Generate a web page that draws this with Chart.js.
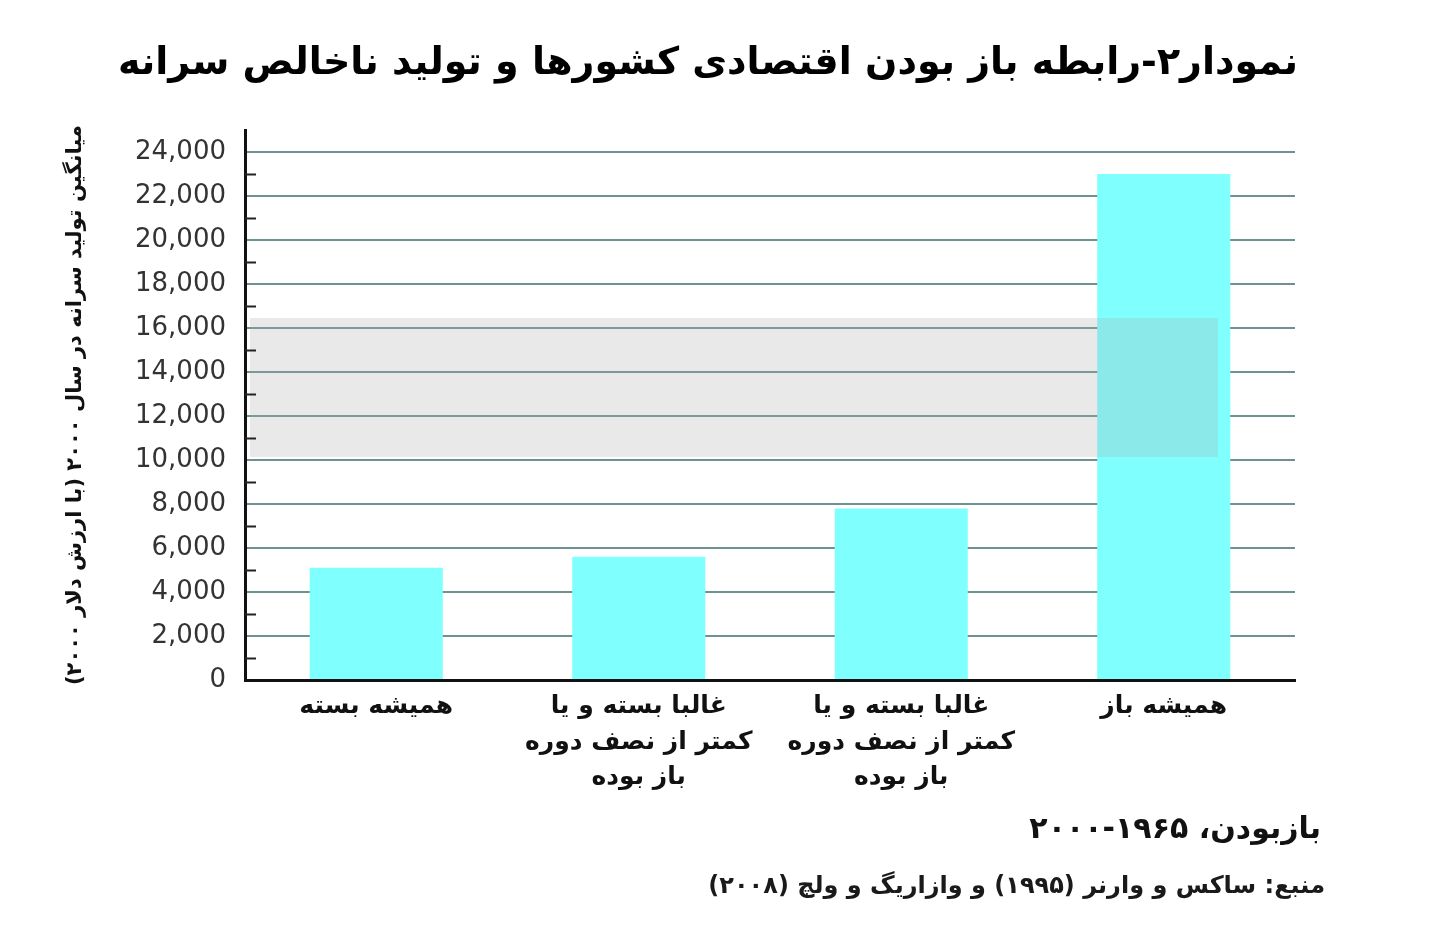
<!DOCTYPE html>
<html>
<head>
<meta charset="utf-8">
<script src="https://cdn.jsdelivr.net/npm/chart.js@4/dist/chart.umd.min.js"></script>
<style>
  html, body { margin: 0; padding: 0; background: #fff; }
  #wrap { width: 1429px; height: 938px; }
  canvas { direction: rtl; }
</style>
</head>
<body>
<div id="wrap"><canvas id="myChart" width="1429" height="938"></canvas></div>
<script>
// data
const categories = [
    ['همیشه بسته'],
    ['غالبا بسته و یا', 'کمتر از نصف دوره', 'باز بوده'],
    ['غالبا بسته و یا', 'کمتر از نصف دوره', 'باز بوده'],
    ['همیشه باز']
];
const gdpValues = [5100, 5600, 7800, 23000];
const yMin = 0;
const yMax = 25000;
const yStep = 1000;      // minor ticks every 1000, labels every 2000

const titleText = 'نمودار۲-رابطه باز بودن اقتصادی کشورها و تولید ناخالص سرانه';
const yTitleText = 'میانگین تولید سرانه در سال ۲۰۰۰ (با ارزش دلار ۲۰۰۰)';
const noteText = 'بازبودن، ۱۹۶۵-۲۰۰۰';
const sourceText = 'منبع: ساکس و وارنر (۱۹۹۵) و وازاریگ و ولچ (۲۰۰۸)';

const persianFont = '"DejaVu Sans", sans-serif';

// short dark ticks on the odd thousands, just right of the y axis
const minorTicks = {
    id: 'minorTicks',
    afterDraw(chart) {
        const ctx = chart.ctx;
        const y = chart.scales.y;
        const left = chart.chartArea.left;
        ctx.save();
        ctx.strokeStyle = '#222';
        ctx.lineWidth = 2;
        for (let v = yMin + yStep; v < yMax; v += yStep) {
            if (v % 2000 === 0) continue;
            const py = Math.round(y.getPixelForValue(v)) + 0.5;
            ctx.beginPath();
            ctx.moveTo(left, py);
            ctx.lineTo(left + 11, py);
            ctx.stroke();
        }
        ctx.restore();
    }
};

// grey watermark band across the middle of the plot
const band = {
    id: 'band',
    afterDatasetsDraw(chart) {
        const ctx = chart.ctx;
        ctx.save();
        ctx.fillStyle = 'rgba(170,170,170,0.26)';
        ctx.fillRect(250, 318, 968, 139);
        ctx.restore();
    }
};

// title on top, note + source lines under the chart
const texts = {
    id: 'texts',
    afterDraw(chart) {
        const ctx = chart.ctx;
        ctx.save();
        ctx.direction = 'rtl';
        ctx.textBaseline = 'middle';

        ctx.textAlign = 'center';
        ctx.fillStyle = '#000';
        ctx.font = 'bold 38px ' + persianFont;
        ctx.fillText(titleText, 708, 64);

        ctx.textAlign = 'right';
        ctx.fillStyle = '#111';
        ctx.font = 'bold 30px ' + persianFont;
        ctx.fillText(noteText, 1321, 830);
        ctx.font = 'bold 24px ' + persianFont;
        ctx.fillStyle = '#1a1a1a';
        ctx.fillText(sourceText, 1325, 887);
        ctx.restore();
    }
};

const ctx = document.getElementById('myChart').getContext('2d');
const myChart = new Chart(ctx, {
    type: 'bar',
    data: {
        labels: categories,
        datasets: [{
            label: 'GDP',
            data: gdpValues,
            backgroundColor: '#80ffff',
            borderWidth: 0,
            barPercentage: 0.507,
            categoryPercentage: 1
        }]
    },
    options: {
        responsive: false,
        animation: false,
        layout: {
            padding: { left: 0, right: 134, top: 130, bottom: 0 }
        },
        plugins: {
            legend: { display: false },
            tooltip: { enabled: false },
            title: { display: false }
        },
        scales: {
            x: {
                grid: { display: false, drawTicks: false },
                border: { display: true, color: '#111', width: 3 },
                ticks: {
                    color: '#111',
                    padding: 9,
                    maxRotation: 0,
                    autoSkip: false,
                    font: { family: persianFont, size: 25, weight: 'bold', lineHeight: 1.42 }
                },
                afterFit: function(scale) { scale.height = 258; }
            },
            y: {
                min: yMin,
                max: yMax,
                grid: {
                    drawTicks: false,
                    lineWidth: 2,
                    color: function(c) {
                        const v = c.tick ? c.tick.value : 0;
                        return (v % 2000 === 0 && v !== 0) ? '#6e9292' : 'rgba(0,0,0,0)';
                    }
                },
                border: { display: true, color: '#111', width: 3 },
                ticks: {
                    stepSize: yStep,
                    autoSkip: false,
                    padding: 19,
                    color: '#333',
                    font: { family: '"DejaVu Sans", sans-serif', size: 26 },
                    callback: function(value) {
                        return value % 2000 === 0 ? value.toLocaleString('en-US') : '';
                    }
                },
                title: {
                    display: true,
                    text: yTitleText,
                    color: '#111',
                    font: { family: persianFont, size: 21, weight: 'bold', lineHeight: 1.2 },
                    padding: { top: 63, bottom: 0 }
                },
                afterFit: function(scale) { scale.width = 245; }
            }
        }
    },
    plugins: [band, minorTicks, texts]
});
</script>
</body>
</html>
